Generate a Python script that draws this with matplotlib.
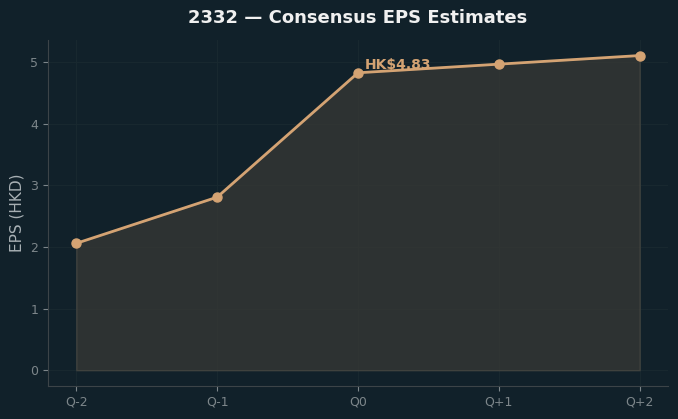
import matplotlib.pyplot as plt

# consensus EPS estimates
quarters = ['Q-2', 'Q-1', 'Q0', 'Q+1', 'Q+2']
eps = [2.06, 2.81, 4.83, 4.97, 5.11]

bg = '#11212a'
line_color = '#d4a373'

fig = plt.figure(figsize=(6.78, 4.19), dpi=100, facecolor=bg)
ax = fig.add_axes([0.071, 0.079, 0.914, 0.826])
ax.set_facecolor(bg)

x = range(len(quarters))
ax.fill_between(x, eps, 0, color='#3a3a36', alpha=0.7, edgecolor='#4a4a44', linewidth=1)
ax.plot(x, eps, color=line_color, linewidth=2, marker='o', markersize=6.5)

# label on current quarter
ax.annotate(f'HK${eps[2]:.2f}', (2, eps[2]), xytext=(5, 3), textcoords='offset points',
            color=line_color, fontsize=10, fontweight='bold')

ax.set_xticks(list(x))
ax.set_xticklabels(quarters)
ax.set_ylabel('EPS (HKD)', color='#a8b0b4', fontsize=11)
ax.set_title('2332 — Consensus EPS Estimates', color='#f0f0f0', fontsize=13,
             fontweight='bold', pad=12)

ax.tick_params(colors='#7d868a', labelsize=9)
ax.grid(True, color='#18282f', linewidth=0.8)
ax.set_axisbelow(True)
for s in ['top', 'right']:
    ax.spines[s].set_visible(False)
for s in ['left', 'bottom']:
    ax.spines[s].set_color('#3c4448')

fig.savefig('out.png', dpi=100, facecolor=bg)
